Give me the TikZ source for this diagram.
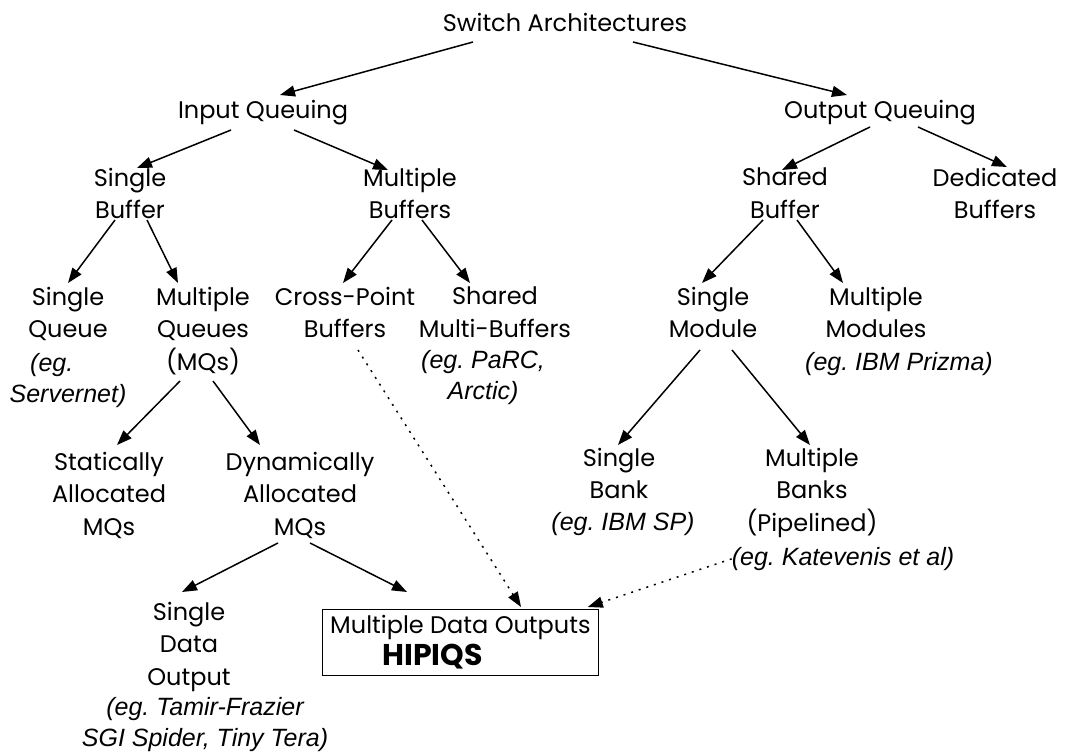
\documentclass[tikz,border=0pt]{standalone}
\usepackage{fontspec}
\usepackage{tikz}
\usetikzlibrary{arrows.meta}

\newfontfamily{\gothic}{Poppins}
\newfontfamily{\egfont}{Liberation Sans}

\begin{document}
\begin{tikzpicture}[x=1pt, y=-1pt, >={Triangle[length=15pt,width=11pt]}]
        \useasboundingbox (0,0) rectangle (1068,754);
        \begin{scope}[every node/.style={anchor=north, align=center, inner sep=0pt,
                      font={\fontsize{24}{32.5}\gothic}}]
            \node (sa)  at (565, 13) {Switch Architectures} ;
            \node (iq)  at (263,100) {Input Queuing} ;
            \node (oq)  at (880,100) {Output Queuing} ;
            \node (sb)  at (130,168) {Single\\Buffer} ;
            \node (mb)  at (410,168) {Multiple\\Buffers} ;
            \node (shb) at (785,168) {Shared\\Buffer} ;
            \node (db)  at (995,168) {Dedicated\\Buffers} ;
            \node (sq)  at (68,287)  {Single\\Queue} ;
            \node (mq)  at (203,287) {Multiple\\Queues\\(MQs)} ;
            \node (cp)  at (345,287) {Cross-Point\\Buffers} ;
            \node (smb) at (495,287) {Shared\\Multi-Buffers} ;
            \node (sm)  at (713,287) {Single\\Module} ;
            \node (mm)  at (876,287) {Multiple\\Modules} ;
            \node (sam) at (109,452) {Statically\\Allocated\\MQs} ;
            \node (dam) at (300,452) {Dynamically\\Allocated\\MQs} ;
            \node (sbk) at (619,448) {Single\\Bank} ;
            \node (mbk) at (812,448) {Multiple\\Banks\\(Pipelined)} ;
            \node (sdo) at (189,602) {Single\\Data\\Output} ;
            \node (mdo) [anchor=north west, draw, thick, align=left, inner sep=0pt,
                         minimum width=276pt, minimum height=66pt]
                at (322,609) {Multiple Data Outputs\\\hspace*{52pt}{\fontsize{30}{32.5}\bfseries HIPIQS}} ;
        \end{scope}
        % examples
        \begin{scope}[every node/.style={anchor=north, align=center, inner sep=0pt,
                      font={\fontsize{25}{31}\egfont\itshape\frenchspacing}}]
            \node (sqeg)  at (68,353)  {(eg.\hspace*{1.3em}\\Servernet)} ;
            \node (smbeg) at (483,350) {(eg. PaRC,\\Arctic)} ;
            \node (mmeg)  at (899,352) {(eg. IBM Prizma)} ;
            \node (sbkeg) at (623,512) {(eg. IBM SP)} ;
            \node (mbkeg) at (843,547) {(eg. Katevenis et al)} ;
            \node (sdoeg) at (205,697) {(eg. Tamir-Frazier\\SGI Spider, Tiny Tera)} ;
        \end{scope}

        \begin{scope}[every edge/.style={draw=black, line width=1.5pt}]
            \path [->] ([shift={(-92,29)}]sa.north) edge ([shift={(17,-5)}]iq.north);
            \path [->] ([shift={(68,29)}]sa.north) edge ([shift={(-33,-5)}]oq.north);
            \path [->] ([shift={(-32,30)}]iq.north) edge ([shift={(7,0)}]sb.north);
            \path [->] ([shift={(31,30)}]iq.north) edge ([shift={(-22,2)}]mb.north);
            \path [->] ([shift={(-10,27)}]oq.north) edge ([shift={(-3,2)}]shb.north);
            \path [->] ([shift={(38,27)}]oq.north) edge ([shift={(12,-1)}]db.north);
            \path [->] ([shift={(-15,52)}]sb.north) edge ([shift={(0,-4)}]sq.north);
            \path [->] ([shift={(17,52)}]sb.north) edge ([shift={(-25,-4)}]mq.north);
            \path [->] ([shift={(-18,52)}]mb.north) edge ([shift={(-2,-4)}]cp.north);
            \path [->] ([shift={(12,52)}]mb.north) edge ([shift={(-25,-4)}]smb.north);
            \path [->] ([shift={(-22,52)}]shb.north) edge ([shift={(-11,-4)}]sm.north);
            \path [->] ([shift={(12,52)}]shb.north) edge ([shift={(-33,-4)}]mm.north);
            \path [->] ([shift={(-23,94)}]mq.north) edge ([shift={(8,-7)}]sam.north);
            \path [->] ([shift={(10,94)}]mq.north) edge ([shift={(-40,-7)}]dam.north);
            \path [->] ([shift={(-13,63)}]sm.north) edge ([shift={(-1,-3)}]sbk.north);
            \path [->] ([shift={(19,63)}]sm.north) edge ([shift={(-2,-3)}]mbk.north);
            \path [->] ([shift={(-22,91)}]dam.north) edge ([shift={(-7,-10)}]sdo.north);
            \path [->] ([shift={(10,91)}]dam.north) edge ([shift={(85,-17)}]mdo.north west);
        \end{scope}
        \begin{scope}[every edge/.style={draw=black, line width=1.5pt, dash pattern=on 2pt off 6pt}]
            \path [->] ([shift={(13,63)}]cp.north) edge ([shift={(199,-2)}]mdo.north west);
            \path [->] (mbkeg.west) edge ([shift={(-11,-2)}]mdo.north east);
        \end{scope}
    \end{tikzpicture}
\end{document}
